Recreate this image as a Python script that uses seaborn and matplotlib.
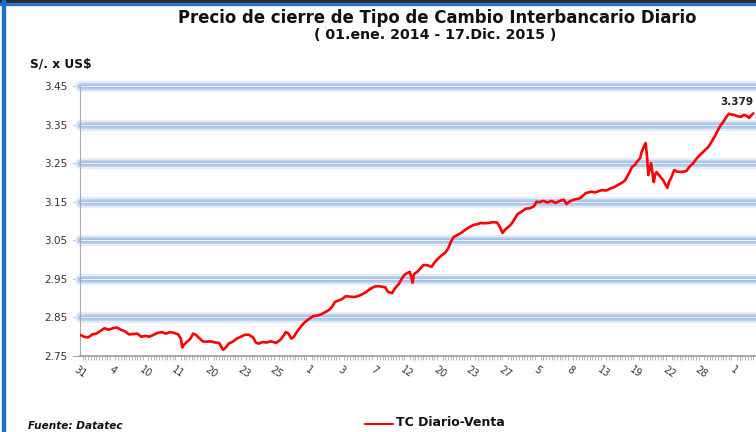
import matplotlib
matplotlib.use('Agg')
import matplotlib.pyplot as plt
import matplotlib.patches as mpatches
import seaborn as sns
import pandas as pd
import numpy as np

# Trading-day index and closing rate (S/. per US$)
days = [0, 3, 6, 9, 12, 15, 18, 21, 24, 27, 30, 33, 36, 39, 42, 45, 48, 51, 54, 57,
        60, 63, 66, 69, 72, 74, 75, 76, 78, 81, 83, 85, 88, 90, 92, 96, 99, 102, 104, 105,
        107, 109, 112, 115, 118, 121, 124, 127, 129, 131, 134, 137, 140, 144, 147, 150, 151, 153, 155, 157,
        159, 162, 165, 168, 171, 174, 177, 180, 183, 185, 187, 189, 192, 195, 198, 201, 204, 207, 210, 213,
        216, 219, 221, 224, 226, 229, 231, 234, 236, 238, 240, 242, 243, 244, 245, 248, 250, 252, 255, 258,
        260, 262, 265, 268, 270, 272, 274, 277, 280, 283, 286, 289, 292, 294, 297, 300, 303, 306, 308, 310,
        312, 316, 318, 321, 324, 327, 330, 333, 335, 337, 340, 343, 346, 349, 352, 355, 357, 359, 362, 366,
        368, 371, 375, 378, 381, 383, 386, 389, 392, 395, 398, 400, 403, 405, 407, 409, 411, 412, 414, 415,
        416, 417, 418, 419, 420, 421, 422, 423, 426, 428, 429, 431, 432, 434, 436, 438, 441, 443, 445, 447,
        450, 452, 454, 456, 459, 461, 463, 465, 468, 470, 472, 474, 476, 478, 480, 482, 485, 487, 489, 491,
        492, 494]
rates = [2.805, 2.800, 2.798, 2.806, 2.808, 2.815, 2.822, 2.818, 2.822, 2.824, 2.818, 2.814, 2.806, 2.807, 2.808, 2.800, 2.802, 2.800, 2.805, 2.810,
         2.812, 2.808, 2.812, 2.810, 2.806, 2.795, 2.772, 2.778, 2.785, 2.795, 2.808, 2.805, 2.795, 2.788, 2.787, 2.788, 2.785, 2.784, 2.772, 2.766,
         2.772, 2.782, 2.787, 2.795, 2.800, 2.805, 2.805, 2.798, 2.785, 2.782, 2.786, 2.785, 2.788, 2.784, 2.792, 2.806, 2.812, 2.808, 2.795, 2.800,
         2.812, 2.826, 2.838, 2.846, 2.853, 2.855, 2.858, 2.864, 2.870, 2.878, 2.890, 2.893, 2.897, 2.905, 2.904, 2.903, 2.905, 2.910, 2.916, 2.924,
         2.930, 2.931, 2.930, 2.928, 2.916, 2.913, 2.925, 2.937, 2.950, 2.960, 2.965, 2.968, 2.955, 2.940, 2.962, 2.970, 2.978, 2.986, 2.985, 2.981,
         2.992, 3.000, 3.010, 3.018, 3.028, 3.045, 3.058, 3.064, 3.070, 3.078, 3.085, 3.090, 3.092, 3.095, 3.094, 3.095, 3.097, 3.096, 3.085, 3.069,
         3.078, 3.090, 3.100, 3.118, 3.124, 3.132, 3.133, 3.138, 3.150, 3.149, 3.152, 3.148, 3.152, 3.147, 3.152, 3.155, 3.144, 3.150, 3.155, 3.158,
         3.162, 3.172, 3.176, 3.174, 3.178, 3.180, 3.179, 3.184, 3.188, 3.194, 3.200, 3.206, 3.225, 3.240, 3.245, 3.255, 3.263, 3.278, 3.295, 3.302,
         3.270, 3.219, 3.235, 3.250, 3.225, 3.201, 3.220, 3.227, 3.214, 3.205, 3.198, 3.186, 3.200, 3.214, 3.232, 3.228, 3.227, 3.228, 3.230, 3.240,
         3.250, 3.260, 3.268, 3.275, 3.285, 3.292, 3.303, 3.315, 3.335, 3.348, 3.357, 3.368, 3.378, 3.376, 3.375, 3.372, 3.370, 3.375, 3.373, 3.367,
         3.372, 3.379]

tick_days = [0, 24, 48, 72, 96, 120, 144, 168, 192, 216, 240, 264, 288, 312, 336, 360, 384, 408, 432, 456, 480]
tick_labels = ['31', '4', '10', '11', '20', '23', '25', '1', '3', '7', '12',
               '20', '23', '27', '5', '8', '13', '19', '22', '28', '1']
y_ticks = [2.75, 2.85, 2.95, 3.05, 3.15, 3.25, 3.35, 3.45]
last_label = '3.379'

df = pd.DataFrame({'dia': days, 'tc': rates})

sns.set_style('white')
plt.rcParams['font.family'] = ['DejaVu Sans']

fig = plt.figure(figsize=(7.56, 4.32), dpi=100)
ax = fig.add_axes([80 / 756, 76 / 432, 676 / 756, 270 / 432])

# glowing blue gridlines
for yv in y_ticks[1:]:
    ax.axhline(yv, color='#e3ecf8', lw=8, zorder=1, clip_on=False)
    ax.axhline(yv, color='#bcd2f0', lw=5, zorder=1, clip_on=False)
    ax.axhline(yv, color='#9dbde8', lw=2.5, zorder=1, clip_on=False)
    ax.axhline(yv, color='#eef4fc', lw=0.8, zorder=1, clip_on=False)

sns.lineplot(data=df, x='dia', y='tc', color='#ff0000', lw=1.9, ax=ax, zorder=3,
             label='TC Diario-Venta', legend=False)

ax.set_xlim(0, 496)
ax.set_ylim(2.75, 3.45)
ax.set_yticks(y_ticks)
ax.set_yticklabels(['%.2f' % v for v in y_ticks], fontsize=7.5, color='#333333')
ax.set_xticks(tick_days)
ax.set_xticklabels(tick_labels, rotation=-35, ha='center', fontsize=7, color='#333333')
ax.set_xticks(np.arange(0, 497, 2), minor=True)
ax.tick_params(axis='x', which='major', length=4, color='#999999', pad=2)
ax.tick_params(axis='x', which='minor', length=3, color='#aaaaaa', width=0.6, bottom=True)
ax.tick_params(axis='y', length=5, color='#aaaaaa', pad=4, left=True)
ax.set_xlabel('')
ax.set_ylabel('')

for s in ['top', 'right']:
    ax.spines[s].set_visible(False)
ax.spines['left'].set_color('#aaaaaa')
ax.spines['left'].set_linestyle((0, (1, 1)))
ax.spines['bottom'].set_color('#999999')
ax.spines['bottom'].set_linewidth(1.2)

ax.text(days[-1] - 12, 3.395, last_label, fontsize=7.5, fontweight='bold',
        ha='center', va='bottom', color='#222222')

fig.text(437 / 756, 1 - 18 / 432, 'Precio de cierre de Tipo de Cambio Interbancario Diario',
         fontsize=11.9, fontweight='bold', ha='center', va='center', color='#111111')
fig.text(435 / 756, 1 - 35 / 432, '( 01.ene. 2014 - 17.Dic. 2015 )',
         fontsize=10.2, fontweight='bold', ha='center', va='center', color='#111111')
fig.text(30 / 756, 1 - 64 / 432, 'S/. x US$', fontsize=8.8, fontweight='bold',
         ha='left', va='center', color='#111111')
fig.text(28 / 756, 1 - 426 / 432, 'Fuente: Datatec', fontsize=7.6, fontweight='bold',
         style='italic', ha='left', va='center', color='#111111')

# legend
fig.lines.append(plt.Line2D([365 / 756, 393 / 756], [1 - 424 / 432, 1 - 424 / 432],
                            transform=fig.transFigure, color='#ff0000', lw=1.5))
fig.text(396 / 756, 1 - 423 / 432, 'TC Diario-Venta', fontsize=9, fontweight='bold',
         ha='left', va='center', color='#111111')

# frame decorations
fig.patches.append(mpatches.Rectangle((0, 1 - 3 / 432), 1, 3 / 432, transform=fig.transFigure,
                                      color='#2d2d2d', zorder=5))
fig.patches.append(mpatches.Rectangle((0, 1 - 5 / 432), 1, 2 / 432, transform=fig.transFigure,
                                      color='#2a72c4', zorder=5))
fig.patches.append(mpatches.Rectangle((2 / 756, 0), 2.5 / 756, 1, transform=fig.transFigure,
                                      color='#1f6fc6', zorder=5))

fig.savefig('out.png', dpi=100)
